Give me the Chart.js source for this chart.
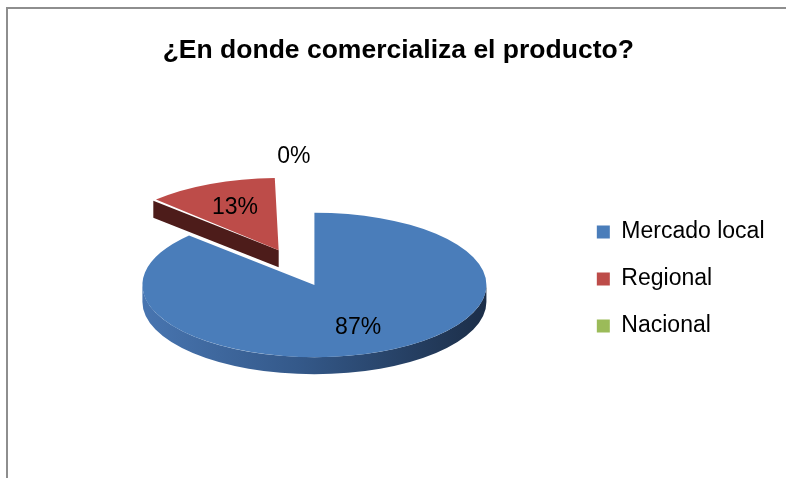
<!DOCTYPE html>
<html>
<head>
<meta charset="utf-8">
<script src="https://cdn.jsdelivr.net/npm/chart.js@4.4.0/dist/chart.umd.min.js"></script>
<style>
  html, body { margin: 0; padding: 0; background: #fff; }
  #wrap { position: relative; width: 786px; height: 478px; overflow: hidden; }
  #frame { position: absolute; left: 6px; top: 7px; width: 820px; height: 520px;
           border-left: 2px solid #8e8e8e; border-top: 2px solid #8e8e8e; pointer-events: none; }
</style>
</head>
<body>
<div id="wrap">
  <canvas id="pieChart" width="786" height="478"></canvas>
  <div id="frame"></div>
</div>
<script>
// Data
const categories = ['Mercado local', 'Regional', 'Nacional'];
const percentages = [87, 13, 0];

// Look
const topColors = ['#4a7dba', '#bd4c49', '#9bbb59'];
const faceColors = ['#2c4a72', '#4d1c1a', '#5e7433'];
const TILT = 0.42;     // vertical squash of the pie
const DEPTH = 17;      // thickness of the 3D wall
const FONT = 'Liberation Sans';

// position of a slice's tip after the library's explode offset (in screen space)
function sliceTip(arc) {
    const mid = (arc.startAngle + arc.endAngle) / 2;
    const shift = (arc.options.offset || 0) / 4;
    return { x: arc.x + Math.cos(mid) * shift, y: arc.y + Math.sin(mid) * shift * TILT, mid };
}

const pie3d = {
    id: 'pie3d',
    // title sits a bit left of the full width centre, legend a bit higher
    afterLayout(chart) {
        const t = chart.titleBlock;
        t.left -= 17;
        t.right -= 17;
        const l = chart.legend;
        l.top -= 6;
        l.bottom -= 6;
    },
    // keep exploded slice the same radius as the rest
    afterDatasetUpdate(chart, args) {
        args.meta.data.forEach(arc => {
            const shift = (arc.options.offset || 0) / 4;
            const fix = 1 - Math.sin(Math.min(Math.PI, arc.circumference));
            arc.outerRadius -= shift * fix;
        });
    },
    beforeDatasetsDraw(chart) {
        const ctx = chart.ctx;
        const meta = chart.getDatasetMeta(0);
        const R = meta.controller.outerRadius;
        const cy = meta.data[0].y;

        meta.data.forEach((arc, i) => {
            if (arc.circumference === 0) return;
            const t = sliceTip(arc);
            const a1 = arc.startAngle, a2 = arc.endAngle;

            // curved outer wall, front half only
            for (let k = -1; k <= 1; k++) {
                const lo = Math.max(a1, 2 * Math.PI * k);
                const hi = Math.min(a2, 2 * Math.PI * k + Math.PI);
                if (lo >= hi) continue;
                const grad = ctx.createLinearGradient(t.x - R, 0, t.x + R, 0);
                if (i === 0) {
                    grad.addColorStop(0, '#4875b0');
                    grad.addColorStop(0.45, '#34598a');
                    grad.addColorStop(1, '#1c2e48');
                } else {
                    grad.addColorStop(0, faceColors[i]);
                    grad.addColorStop(1, faceColors[i]);
                }
                ctx.beginPath();
                ctx.ellipse(t.x, t.y, R, R * TILT, 0, lo, hi, false);
                ctx.ellipse(t.x, t.y + DEPTH, R, R * TILT, 0, hi, lo, true);
                ctx.closePath();
                ctx.fillStyle = grad;
                ctx.fill();
            }

            // flat cut faces that turn towards the viewer
            const edges = [];
            if (Math.cos(a1) < -1e-6) edges.push(a1);
            if (Math.cos(a2) > 1e-6) edges.push(a2);
            edges.forEach(a => {
                const ex = t.x + Math.cos(a) * R;
                const ey = t.y + Math.sin(a) * R * TILT;
                ctx.beginPath();
                ctx.moveTo(t.x, t.y);
                ctx.lineTo(ex, ey);
                ctx.lineTo(ex, ey + DEPTH);
                ctx.lineTo(t.x, t.y + DEPTH);
                ctx.closePath();
                ctx.fillStyle = faceColors[i];
                ctx.fill();
            });
        });

        // squash the library's pie into an ellipse
        ctx.save();
        ctx.translate(0, cy);
        ctx.scale(1, TILT);
        ctx.translate(0, -cy);
    },
    afterDatasetsDraw(chart) {
        const ctx = chart.ctx;
        ctx.restore();

        const meta = chart.getDatasetMeta(0);
        const R = meta.controller.outerRadius;
        ctx.save();
        ctx.fillStyle = '#000';
        ctx.font = '23px "' + FONT + '"';
        ctx.textBaseline = 'middle';
        meta.data.forEach((arc, i) => {
            const t = sliceTip(arc);
            const text = percentages[i] + '%';
            let r = 0.64 * R;
            let dx = 0;
            ctx.textAlign = 'center';
            if (arc.circumference === 0) {
                r = 1.78 * R;
                dx = -4;
                ctx.textAlign = 'right';
            }
            ctx.fillText(text, t.x + Math.cos(t.mid) * r + dx, t.y + Math.sin(t.mid) * r * TILT);
        });
        ctx.restore();
    }
};

const ctx = document.getElementById('pieChart').getContext('2d');
new Chart(ctx, {
    type: 'pie',
    data: {
        labels: categories,
        datasets: [{
            data: percentages,
            backgroundColor: topColors,
            borderWidth: 0,
            offset: [0, 360, 0],
            clip: false
        }]
    },
    options: {
        responsive: false,
        animation: false,
        events: [],
        radius: 172,
        layout: { padding: { left: 56, right: 11.5, top: 0, bottom: 0 } },
        plugins: {
            title: {
                display: true,
                text: '¿En donde comercializa el producto?',
                color: '#000',
                font: { family: FONT, size: 26.5, weight: 'bold' },
                padding: { top: 35, bottom: 25 }
            },
            legend: {
                position: 'right',
                align: 'center',
                fullSize: false,
                labels: {
                    color: '#000',
                    boxWidth: 13,
                    boxHeight: 13,
                    padding: 24,
                    font: { family: FONT, size: 23 }
                }
            },
            tooltip: { enabled: false }
        }
    },
    plugins: [pie3d]
});
</script>
</body>
</html>
